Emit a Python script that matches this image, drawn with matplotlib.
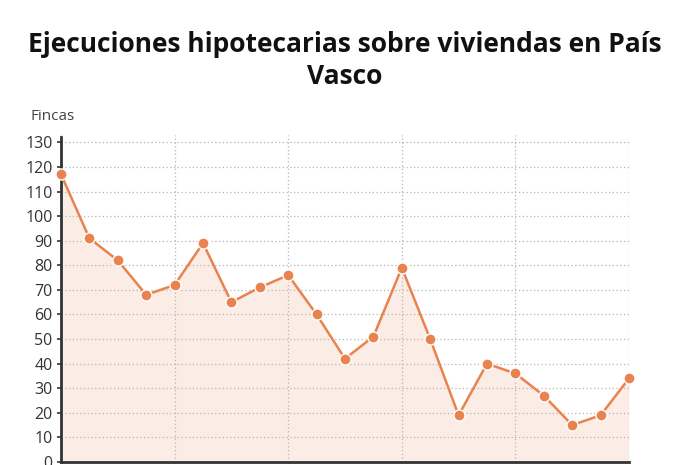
import matplotlib
matplotlib.use('Agg')
import matplotlib.pyplot as plt

# datos: ejecuciones hipotecarias sobre viviendas (fincas)
periodos = list(range(21))
fincas = [117, 91, 82, 68, 72, 89, 65, 71, 76, 60, 42, 51, 79, 50, 19, 40, 36, 27, 15, 19, 34]
yticks = list(range(0, 140, 10))
xgrid = [0, 4, 8, 12, 16, 20]

plt.rcParams['font.family'] = ['Open Sans', 'DejaVu Sans']

naranja = '#e8834f'

fig = plt.figure(figsize=(6.9, 4.65), dpi=100)
ax = fig.add_axes([61 / 690, 3 / 465, (629 - 61) / 690, (462 - 135) / 465])

ax.fill_between(periodos, fincas, 0, color=naranja, alpha=0.14, linewidth=0, zorder=1)
ax.plot(periodos, fincas, color=naranja, linewidth=1.8, marker='o', markersize=8,
        markeredgecolor='white', markeredgewidth=1, zorder=3, clip_on=False)

ax.set_xlim(0, 20)
ax.set_ylim(0, 133)
ax.set_yticks(yticks)
ax.set_xticks(xgrid)
ax.set_xticklabels([])
ax.tick_params(axis='x', length=0)
ax.tick_params(axis='y', length=3, width=1.2, color='#333333', labelsize=11.5, labelcolor='#333333', pad=3)
ax.grid(True, color='#b5b5b5', linestyle=(0, (1, 2)), linewidth=0.9, zorder=0)

for s in ['top', 'right']:
    ax.spines[s].set_visible(False)
for s in ['left', 'bottom']:
    ax.spines[s].set_color('#333333')
    ax.spines[s].set_linewidth(2)
    ax.spines[s].set_linestyle((0, (1, 1)))

fig.text(30 / 690, 1 - 117 / 465, 'Fincas', fontsize=11, color='#444444', va='center', ha='left')
fig.text(0.5, 1 - 45 / 465, 'Ejecuciones hipotecarias sobre viviendas en País', fontsize=19,
         fontweight='bold', ha='center', va='center', color='#111111')
fig.text(0.5, 1 - 77 / 465, 'Vasco', fontsize=19, fontweight='bold', ha='center', va='center', color='#111111')

fig.savefig('out.png', dpi=100)
